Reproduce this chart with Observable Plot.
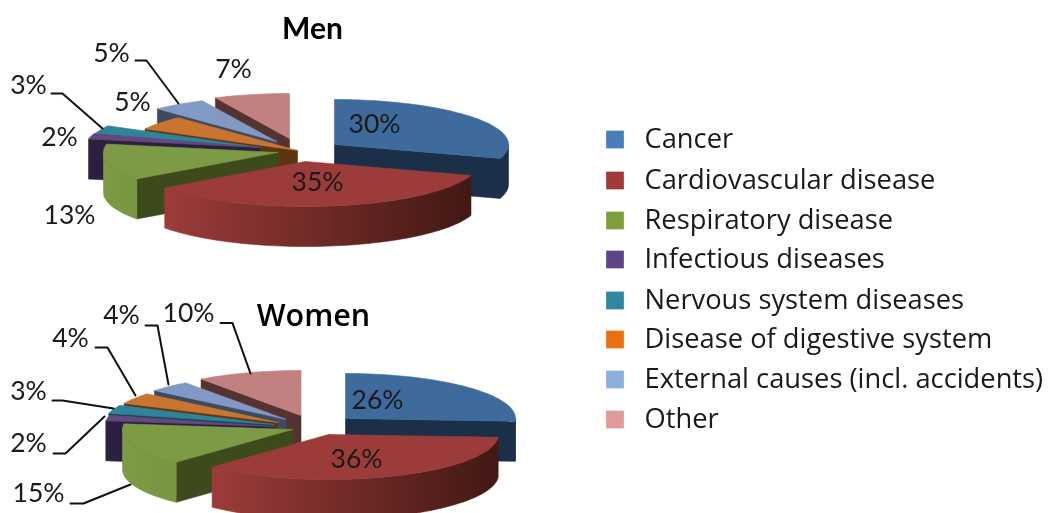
<!DOCTYPE html>
<html><head><meta charset="utf-8">
<style>html,body{margin:0;padding:0;background:#fff}svg{display:block;filter:blur(.6px)}</style>
<script src="https://cdn.jsdelivr.net/npm/d3@7"></script>
<script src="https://cdn.jsdelivr.net/npm/@observablehq/plot@0.6"></script>
</head><body><div id="chart"></div>
<script>
// ---- data ----
const categories = ["Cancer","Cardiovascular disease","Respiratory disease","Infectious diseases","Nervous system diseases","Disease of digestive system","External causes (incl. accidents)","Other"];
const menValues = [30,35,13,2,3,5,5,7];
const womenValues = [26,36,15,2,3,4,4,10];

// ---- styles ----
const legendColors = ["#4a7ebb","#a33a38","#7f9e3a","#5f4488","#2f87a0","#e9710f","#8cb0dd","#e09a9a"];
const topColors   = ["#3e6a9c","#9c3c3a","#7d9a44","#64487f","#2e8499","#c8752f","#8299c3","#c08180"];
const wallColors  = ["#1b2f48","#421814","#3d4a1b","#2c2040","#164452","#5e3512","#3d4b60","#553331"];
const rimLeft     = ["#1b2f48","#9c3c3a","#7d9a44","#2c2040","#164452","#5e3512","#3d4b60","#553331"];
const rimRight    = ["#1b2f48","#421814","#78953f","#2c2040","#164452","#5e3512","#3d4b60","#553331"];

// ---- layout of each pie (where every exploded slice's tip sits) ----
const menLayout = {rx:174, ry:45, depth:40,
  tipX:[334,305,277,259,260,297,276,289], tipY:[144,161,152,147,147,150,141,138]};
const womenLayout = {rx:170, ry:45, depth:40,
  tipX:[345,328,292,274,273,277.5,285,300.5], tipY:[418,434,429,426,424,422,418.7,415]};
const drawOrder = [7,6,5,4,3,0,2,1];

const menLabelX = [374,317,69,59,28,132,111,233], menLabelY = [124,182,215,137,85,102,53,69];
const womenLabelX = [377,356,38,28,28,70,121,188], womenLabelY = [400,459,493,443,391,338,315,313];

const leaderLines = [
  [[135,60],[146,60],[178,103]],
  [[51,93],[62,93],[102,128]],
  [[220,322.6],[232,322.6],[250,373]],
  [[145,325],[157,325],[168,384]],
  [[95,347],[107,347],[135,395]],
  [[52,400],[62,400],[113,408]],
  [[53,453],[65,453],[104,416]],
  [[70,503],[83,503],[130,484]]
];
const legendRowY = [139,180,220,259,300,339,379,419];

// ---- geometry built from the values ----
const rad = d => d * Math.PI / 180;
const polygons = [];
const rimGradients = [];
let polyId = 0;
function addPoly(points, color) {
  const id = polyId++;
  for (const [x, y] of [...points, points[0]]) polygons.push({id, x, y, color});
}
function addPie(values, L) {
  const total = d3.sum(values);
  let acc = 0;
  const spans = values.map(v => { const a = acc / total * 360; acc += v; return [a, acc / total * 360]; });
  for (const i of drawOrder) {
    const [a0, a1] = spans[i];
    const cx = L.tipX[i], cy = L.tipY[i], D = L.depth;
    const rim = a => [cx + L.rx * Math.sin(rad(a)), cy - L.ry * Math.cos(rad(a))];
    // radial side faces turned to the viewer
    if (a1 < 180) { const p = rim(a1); addPoly([[cx,cy],p,[p[0],p[1]+D],[cx,cy+D]], wallColors[i]); }
    if (a0 > 180) { const p = rim(a0); addPoly([[cx,cy],p,[p[0],p[1]+D],[cx,cy+D]], wallColors[i]); }
    // outer rim, one outline with a horizontal gradient
    const r0 = Math.max(a0, 90), r1 = Math.min(a1, 270);
    if (r1 > r0) {
      const n = Math.max(2, Math.ceil((r1 - r0) / 2));
      const arc = d3.range(n + 1).map(k => rim(r0 + (r1 - r0) * k / n));
      const lower = arc.map(([x, y]) => [x, y + D]).reverse();
      const xs = arc.map(p => p[0]);
      const id = "rim" + rimGradients.length;
      rimGradients.push({id, xLeft: d3.min(xs), xRight: d3.max(xs), left: rimLeft[i], right: rimRight[i]});
      addPoly([...arc, ...lower], `url(#${id})`);
    }
    // top face
    const top = [[cx,cy]];
    const steps = Math.max(2, Math.ceil((a1 - a0) / 2));
    for (let k = 0; k <= steps; k++) top.push(rim(a0 + (a1 - a0) * k / steps));
    addPoly(top, topColors[i]);
  }
}
addPie(menValues, menLayout);
addPie(womenValues, womenLayout);

const labelRows = [
  ...menValues.map((v,i)=>({t:v+"%",x:menLabelX[i],y:menLabelY[i]})),
  ...womenValues.map((v,i)=>({t:v+"%",x:womenLabelX[i],y:womenLabelY[i]}))
];
const leaderRows = leaderLines.flatMap((l,i)=>l.map(([x,y])=>({i,x,y})));
const legendRows = categories.map((c,i)=>({c,y:legendRowY[i],color:legendColors[i]}));
const font = "Lato, 'Open Sans', sans-serif";
const wideFont = "'Open Sans', Lato, sans-serif";

const chart = Plot.plot({
  width:1052, height:513, margin:0,
  x:{domain:[0,1052],range:[0,1052],axis:null},
  y:{domain:[0,513],range:[0,513],axis:null},
  color:{type:"identity"},
  style:{background:"#fff"},
  marks:[
    Plot.line(polygons,{x:"x",y:"y",z:"id",fill:"color",stroke:"color",strokeWidth:0.6,curve:"linear"}),
    Plot.line(leaderRows,{x:"x",y:"y",z:"i",stroke:"#111",strokeWidth:2,curve:"linear"}),
    Plot.text(labelRows,{x:"x",y:"y",text:"t",fontSize:26.5,fontFamily:font,fill:"#1a1a1a",textAnchor:"middle",lineAnchor:"middle"}),
    Plot.text(["Men"],{x:[312],y:[29],text:d=>d,fontSize:30,fontWeight:700,fontFamily:font,fill:"#000",textAnchor:"middle",lineAnchor:"middle"}),
    Plot.text(["Women"],{x:[313],y:[316],text:d=>d,fontSize:30.5,fontWeight:600,fontFamily:wideFont,fill:"#000",textAnchor:"middle",lineAnchor:"middle"}),
    Plot.dot(legendRows,{x:()=>614.5,y:"y",symbol:"square",r:10,fill:"color"}),
    Plot.text(legendRows,{x:()=>644,y:"y",text:"c",fontSize:27.3,fontFamily:wideFont,fill:"#1a1a1a",textAnchor:"start",lineAnchor:"middle"})
  ]
});
const defs = d3.select(chart).insert("defs", ":first-child");
for (const g of rimGradients) {
  const lg = defs.append("linearGradient").attr("id", g.id).attr("gradientUnits", "userSpaceOnUse")
    .attr("x1", chart.scale("x").apply(g.xLeft)).attr("x2", chart.scale("x").apply(g.xRight)).attr("y1", 0).attr("y2", 0);
  lg.append("stop").attr("offset", 0).attr("stop-color", g.left);
  lg.append("stop").attr("offset", 1).attr("stop-color", g.right);
}
document.getElementById("chart").append(chart);
</script></body></html>
